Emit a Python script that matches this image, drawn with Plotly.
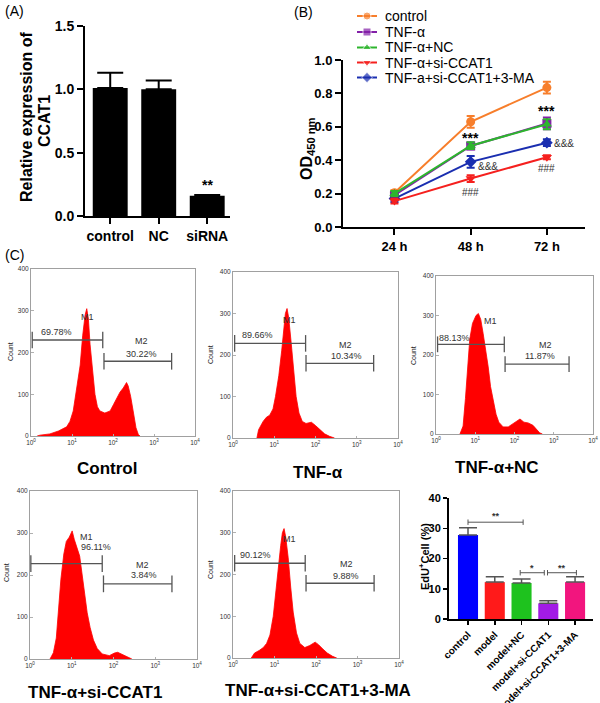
import plotly.graph_objects as go

FONT = "Liberation Sans, Arial, sans-serif"
W, H = 600, 703

# ---------------- Panel A data ----------------
a_cats = ["control", "NC", "siRNA"]
a_vals = [1.01, 1.00, 0.16]
a_err = [0.12, 0.07, 0.005]

# ---------------- Panel B data ----------------
b_times = [24, 48, 72]
b_tick_labels = ["24 h", "48 h", "72 h"]
b_names = ["control", "TNF-α", "TNF-α+NC", "TNF-α+si-CCAT1", "TNF-a+si-CCAT1+3-MA"]
b_control = [0.205, 0.63, 0.835]
b_tnf = [0.19, 0.485, 0.62]
b_nc = [0.20, 0.487, 0.615]
b_si = [0.155, 0.29, 0.418]
b_ma = [0.17, 0.39, 0.505]
b_control_err = [0.015, 0.035, 0.035]
b_tnf_err = [0.015, 0.02, 0.035]
b_nc_err = [0.015, 0.02, 0.03]
b_si_err = [0.015, 0.02, 0.012]
b_ma_err = [0.02, 0.035, 0.02]

# ---------------- Panel C histograms (log10 intensity, count) ----------------
h_titles = ["Control", "TNF-α", "TNF-α+NC", "TNF-α+si-CCAT1", "TNF-α+si-CCAT1+3-MA"]
h1_x = [0.15, 0.22, 0.46, 0.67, 0.87, 0.95, 1.03, 1.11, 1.20, 1.26, 1.32, 1.36, 1.40, 1.44, 1.50,
        1.56, 1.62, 1.68, 1.80, 1.93, 2.01, 2.09, 2.17, 2.25, 2.33, 2.37, 2.43, 2.50, 2.56, 2.62, 2.66]
h1_y = [0, 2, 5, 12, 22, 35, 60, 110, 170, 240, 290, 305, 280, 220, 150,
        100, 70, 60, 55, 60, 75, 90, 105, 115, 128, 120, 95, 55, 20, 3, 0]
h2_x = [0.58, 0.62, 0.73, 0.81, 0.89, 0.97, 1.03, 1.11, 1.18, 1.23, 1.27, 1.31, 1.35, 1.41, 1.47,
        1.53, 1.60, 1.68, 1.77, 1.90, 2.00, 2.10, 2.22, 2.34, 2.46]
h2_y = [0, 20, 40, 50, 55, 70, 100, 150, 210, 270, 300, 312, 290, 230, 160,
        100, 60, 40, 35, 38, 30, 20, 10, 4, 0]
h3_x = [0.61, 0.69, 0.75, 0.81, 0.86, 0.93, 1.02, 1.08, 1.14, 1.20, 1.27, 1.33, 1.39, 1.46, 1.53,
        1.60, 1.71, 1.84, 1.95, 2.05, 2.14, 2.24, 2.35, 2.47, 2.56, 2.64, 2.71]
h3_y = [0, 20, 90, 180, 240, 280, 300, 305, 290, 255, 210, 170, 120, 80, 50,
        30, 18, 18, 25, 32, 38, 30, 28, 22, 12, 3, 0]
h4_x = [0.48, 0.56, 0.63, 0.69, 0.74, 0.81, 0.87, 0.94, 1.01, 1.06, 1.13, 1.19, 1.25, 1.31, 1.37,
        1.44, 1.52, 1.61, 1.73, 1.90, 2.02, 2.10, 2.22, 2.34, 2.44]
h4_y = [0, 15, 50, 120, 190, 250, 280, 290, 305, 285, 265, 245, 200, 150, 110,
        75, 45, 25, 12, 8, 14, 16, 10, 4, 0]
h5_x = [0.44, 0.52, 0.63, 0.73, 0.81, 0.89, 0.97, 1.03, 1.09, 1.15, 1.19, 1.23, 1.27, 1.33, 1.39,
        1.45, 1.53, 1.61, 1.73, 1.85, 1.98, 2.06, 2.16, 2.27, 2.40, 2.50]
h5_y = [0, 12, 18, 25, 35, 55, 100, 160, 220, 270, 300, 310, 290, 240, 170,
        110, 60, 35, 25, 30, 38, 32, 22, 12, 4, 0]
h_log_ticks = [0, 1, 2, 3, 4]
h_tick_text = ["10<sup>0</sup>", "10<sup>1</sup>", "10<sup>2</sup>", "10<sup>3</sup>", "10<sup>4</sup>"]

# gates: M1 start, M1 end, M1 level, M2 start, M2 end, M2 level
gates = [
    (0.03, 1.75, 230, 1.78, 3.43, 179),
    (0.04, 1.76, 228, 1.77, 3.41, 180),
    (0.04, 1.74, 227, 1.76, 3.39, 177),
    (0.02, 1.73, 227, 1.76, 3.40, 179),
    (0.04, 1.74, 227, 1.76, 3.40, 179),
]
m1_pct = ["69.78%", "89.66%", "88.13%", "96.11%", "90.12%"]
m2_pct = ["30.22%", "10.34%", "11.87%", "3.84%", "9.88%"]
# label positions: (M1 x,y), (pct1 x,y), (M2 x,y), (pct2 x,y)
gate_labels = [
    ((1.37, 286), (0.63, 250), (2.70, 228), (2.70, 196)),
    ((1.37, 284), (0.60, 248), (2.72, 224), (2.75, 198)),
    ((1.40, 285), (0.48, 243), (2.80, 226), (2.66, 198)),
    ((1.35, 291), (1.58, 266), (2.70, 225), (2.73, 199)),
    ((1.35, 284), (0.55, 247), (2.74, 225), (2.72, 197)),
]

# ---------------- EdU bar data ----------------
e_cats = ["control", "model", "model+NC", "model+si-CCAT1", "model+si-CCAT1+3-MA"]
e_vals = [27.8, 12.2, 11.9, 5.2, 12.2]
e_err = [2.4, 1.8, 1.3, 0.8, 1.8]
e_colors = ["#0000FF", "#FF1A1A", "#1EC21E", "#A21BE6", "#F2157E"]


def dx(x0, x1):
    return [x0 / W, x1 / W]


def dy(ytop, ybot):
    return [1 - ybot / H, 1 - ytop / H]


def px(x):
    return x / W


def py(y):
    return 1 - y / H


fig = go.Figure()

# ---- Panel A ----
fig.add_trace(go.Bar(
    x=list(range(len(a_cats))), y=a_vals, width=0.72, marker=dict(color="black", line=dict(width=0)),
    error_y=dict(type="data", array=a_err, arrayminus=[0] * len(a_err), symmetric=False,
                 color="black", thickness=2, width=13),
    xaxis="x", yaxis="y", showlegend=False))

# ---- Panel B ----
b_series = [b_control, b_tnf, b_nc, b_si, b_ma]
b_errs = [b_control_err, b_tnf_err, b_nc_err, b_si_err, b_ma_err]
b_colors = ["#F77E2B", "#8320A8", "#2DB52D", "#F5201E", "#1A2EB0"]
b_symbols = ["circle", "square", "triangle-up", "triangle-down", "diamond"]
b_order = [0, 1, 4, 3, 2]
for i in b_order:
    fig.add_trace(go.Scatter(
        x=b_times, y=b_series[i], mode="lines+markers", name=b_names[i],
        line=dict(color=b_colors[i], width=2),
        marker=dict(symbol=b_symbols[i], size=9, color=b_colors[i]),
        error_y=dict(type="data", array=b_errs[i], color=b_colors[i], thickness=2, width=4),
        xaxis="x2", yaxis="y2", showlegend=False))

# ---- Histograms ----
hist_x = [h1_x, h2_x, h3_x, h4_x, h5_x]
hist_y = [h1_y, h2_y, h3_y, h4_y, h5_y]
for k in range(5):
    fig.add_trace(go.Scatter(
        x=hist_x[k], y=hist_y[k], mode="lines", fill="tozeroy",
        line=dict(color="#FF0000", width=0.8), fillcolor="#FF0000",
        xaxis="x%d" % (k + 3), yaxis="y%d" % (k + 3), showlegend=False))

# ---- EdU bars ----
fig.add_trace(go.Bar(
    x=list(range(len(e_cats))), y=e_vals, width=0.75, marker=dict(color=e_colors, line=dict(width=0)),
    error_y=dict(type="data", array=e_err, arrayminus=[0] * len(e_err), symmetric=False,
                 color="#555555", thickness=1.5, width=9),
    xaxis="x8", yaxis="y8", showlegend=False))

# ---- Manual legend for panel B (pixel overlay axis) ----
leg_y = [16, 32, 47.5, 62.5, 77.5]
for i in range(5):
    fig.add_trace(go.Scatter(
        x=[357, 367, 377], y=[leg_y[i]] * 3, mode="lines+markers",
        line=dict(color=b_colors[i], width=2),
        marker=dict(symbol=b_symbols[i], size=[0, 8, 0], color=b_colors[i]),
        xaxis="x9", yaxis="y9", showlegend=False, hoverinfo="skip"))

annotations = []
shapes = []


def ann(text, x, y, size, bold=False, xref="paper", yref="paper", xanchor="center",
        yanchor="middle", angle=0, color="black"):
    annotations.append(dict(
        text=text, x=x, y=y, xref=xref, yref=yref, xanchor=xanchor, yanchor=yanchor,
        showarrow=False, textangle=angle,
        font=dict(family=FONT, size=size, color=color, weight="bold" if bold else "normal")))


for i in range(5):
    ann(b_names[i], px(383), py(leg_y[i]), 14, xanchor="left")

# panel labels
ann("(A)", px(3), py(11), 14, xanchor="left")
ann("(B)", px(292), py(12), 14, xanchor="left")
ann("(C)", px(3), py(255), 14, xanchor="left")

# axis titles
ann("Relative expression of", px(27), py(117), 16, bold=True, angle=-90)
ann("CCAT1", px(44), py(121), 16, bold=True, angle=-90)
ann("OD<sub>450 nm</sub>", px(308), py(149), 16, bold=True, angle=-90)
ann("EdU<sup>+</sup>Cell (%)", px(424), py(557), 11, bold=True, angle=-90)

# significance marks
ann("**", 2, 0.245, 14, bold=True, xref="x", yref="y")
ann("***", 48, 0.535, 14, bold=True, xref="x2", yref="y2")
ann("***", 72, 0.695, 14, bold=True, xref="x2", yref="y2")
ann("&&&", 53.5, 0.365, 10, xref="x2", yref="y2", color="#333333")
ann("&&&", 77.3, 0.503, 10, xref="x2", yref="y2", color="#333333")
ann("###", 48, 0.205, 10, xref="x2", yref="y2", color="#333333")
ann("###", 72, 0.35, 10, xref="x2", yref="y2", color="#333333")

# histogram titles
title_pos = [(107, 468), (318, 472), (497, 467), (95, 692), (318, 690)]
for k in range(5):
    ann(h_titles[k], px(title_pos[k][0]), py(title_pos[k][1]), 17, bold=True)

# Count labels
count_pos = [(10, 352), (210, 355), (413, 356), (6, 573), (210, 570)]
for k in range(5):
    ann("Count", px(count_pos[k][0]), py(count_pos[k][1]), 7, angle=-90, color="#222222")

# gates
for k in range(5):
    xr, yr = "x%d" % (k + 3), "y%d" % (k + 3)
    g = gates[k]
    for (x0, x1, yv) in [(g[0], g[1], g[2]), (g[3], g[4], g[5])]:
        shapes.append(dict(type="line", xref=xr, yref=yr, x0=x0, x1=x1, y0=yv, y1=yv,
                           line=dict(color="#555555", width=1.3)))
        for xe in (x0, x1):
            shapes.append(dict(type="line", xref=xr, yref=yr, x0=xe, x1=xe, y0=yv - 20, y1=yv + 20,
                               line=dict(color="#555555", width=1.3)))
    lab = gate_labels[k]
    ann("M1", lab[0][0], lab[0][1], 9, xref=xr, yref=yr, color="#333333")
    ann(m1_pct[k], lab[1][0], lab[1][1], 9, xref=xr, yref=yr, color="#333333")
    ann("M2", lab[2][0], lab[2][1], 9, xref=xr, yref=yr, color="#333333")
    ann(m2_pct[k], lab[3][0], lab[3][1], 9, xref=xr, yref=yr, color="#333333")

# EdU brackets
brackets = [(0, 2.06, 32, "**", 1.03, 34.0), (1.95, 2.85, 15.3, "*", 2.4, 17.0),
            (2.97, 4.05, 15.3, "**", 3.51, 17.0)]
for (x0, x1, yv, txt, tx, ty) in brackets:
    shapes.append(dict(type="line", xref="x8", yref="y8", x0=x0, x1=x1, y0=yv, y1=yv,
                       line=dict(color="#555555", width=1)))
    for xe in (x0, x1):
        shapes.append(dict(type="line", xref="x8", yref="y8", x0=xe, x1=xe, y0=yv - 0.9, y1=yv + 0.9,
                           line=dict(color="#555555", width=1)))
    ann(txt, tx, ty, 9, bold=True, xref="x8", yref="y8", color="#333333")

bold14 = dict(family=FONT, size=14, color="black", weight="bold")
bold13 = dict(family=FONT, size=13, color="black", weight="bold")

common_off = dict(showgrid=False, zeroline=False, automargin=False)

layout_axes = dict(
    xaxis=dict(domain=dx(85, 230), range=[-0.52, 2.47], tickvals=list(range(len(a_cats))),
               ticktext=a_cats, tickfont=bold14, showline=True, linecolor="black", linewidth=2,
               ticks="outside", ticklen=6, tickwidth=2, tickcolor="black", anchor="y", **common_off),
    yaxis=dict(domain=dy(26, 216), range=[0, 1.5], tickvals=[0, 0.5, 1.0, 1.5],
               ticktext=["0.0", "0.5", "1.0", "1.5"], tickfont=bold14, showline=True,
               linecolor="black", linewidth=2, ticks="outside", ticklen=6, tickwidth=2,
               tickcolor="black", anchor="x", **common_off),
    xaxis2=dict(domain=dx(343, 585), range=[7.8, 84], tickvals=b_times, ticktext=b_tick_labels,
                tickfont=bold13, showline=True, linecolor="black", linewidth=2, ticks="outside",
                ticklen=6, tickwidth=2, tickcolor="black", anchor="y2", **common_off),
    yaxis2=dict(domain=dy(60, 227), range=[0, 1.0], tickvals=[0, 0.2, 0.4, 0.6, 0.8, 1.0],
                ticktext=["0.0", "0.2", "0.4", "0.6", "0.8", "1.0"], tickfont=bold13, showline=True,
                linecolor="black", linewidth=2, ticks="outside", ticklen=6, tickwidth=2,
                tickcolor="black", anchor="x2", **common_off),
    xaxis8=dict(domain=dx(449, 593), range=[-0.71, 4.67], tickvals=list(range(len(e_cats))),
                ticktext=e_cats, tickangle=-45,
                tickfont=dict(family=FONT, size=10, color="black", weight="bold"),
                showline=True, linecolor="black", linewidth=2, ticks="outside", ticklen=4,
                tickwidth=1.5, tickcolor="black", anchor="y8", **common_off),
    yaxis8=dict(domain=dy(498, 619), range=[0, 40], tickvals=[0, 10, 20, 30, 40],
                tickfont=dict(family=FONT, size=11, color="black", weight="bold"),
                showline=True, linecolor="black", linewidth=2, ticks="outside", ticklen=4,
                tickwidth=1.5, tickcolor="black", anchor="x8", **common_off),
    xaxis9=dict(domain=[0, 1], range=[0, W], visible=False, anchor="y9", fixedrange=True),
    yaxis9=dict(domain=[0, 1], range=[H, 0], visible=False, anchor="x9", fixedrange=True),
)

hist_dom = [
    (dx(31, 195), dy(269, 436)),
    (dx(233, 398), dy(272, 438)),
    (dx(436, 593), dy(276, 434)),
    (dx(30, 197), dy(491, 659)),
    (dx(233, 399), dy(491, 658)),
]
small = dict(family=FONT, size=6.5, color="#333333")
for k in range(5):
    n = k + 3
    layout_axes["xaxis%d" % n] = dict(
        domain=hist_dom[k][0], range=[0, 4], tickvals=h_log_ticks, ticktext=h_tick_text,
        tickfont=small, showline=True, mirror=True, linecolor="#A0A0A0", linewidth=1,
        ticks="inside", ticklen=2, tickcolor="#B0B0B0", anchor="y%d" % n, **common_off)
    layout_axes["yaxis%d" % n] = dict(
        domain=hist_dom[k][1], range=[0, 400], tickvals=[0, 100, 200, 300, 400],
        tickfont=small, showline=True, mirror=True, linecolor="#A0A0A0", linewidth=1,
        ticks="inside", ticklen=3, tickcolor="#B0B0B0",
        anchor="x%d" % n, **common_off)

fig.update_layout(
    width=W, height=H, margin=dict(l=0, r=0, t=0, b=0, pad=0, autoexpand=False),
    paper_bgcolor="white", plot_bgcolor="rgba(0,0,0,0)",
    font=dict(family=FONT, color="black"),
    showlegend=False, annotations=annotations, shapes=shapes,
    hovermode=False,
    **layout_axes)

fig.write_html("out.html", config={"displayModeBar": False, "staticPlot": True},
               post_script="document.body.style.margin='0px';")
